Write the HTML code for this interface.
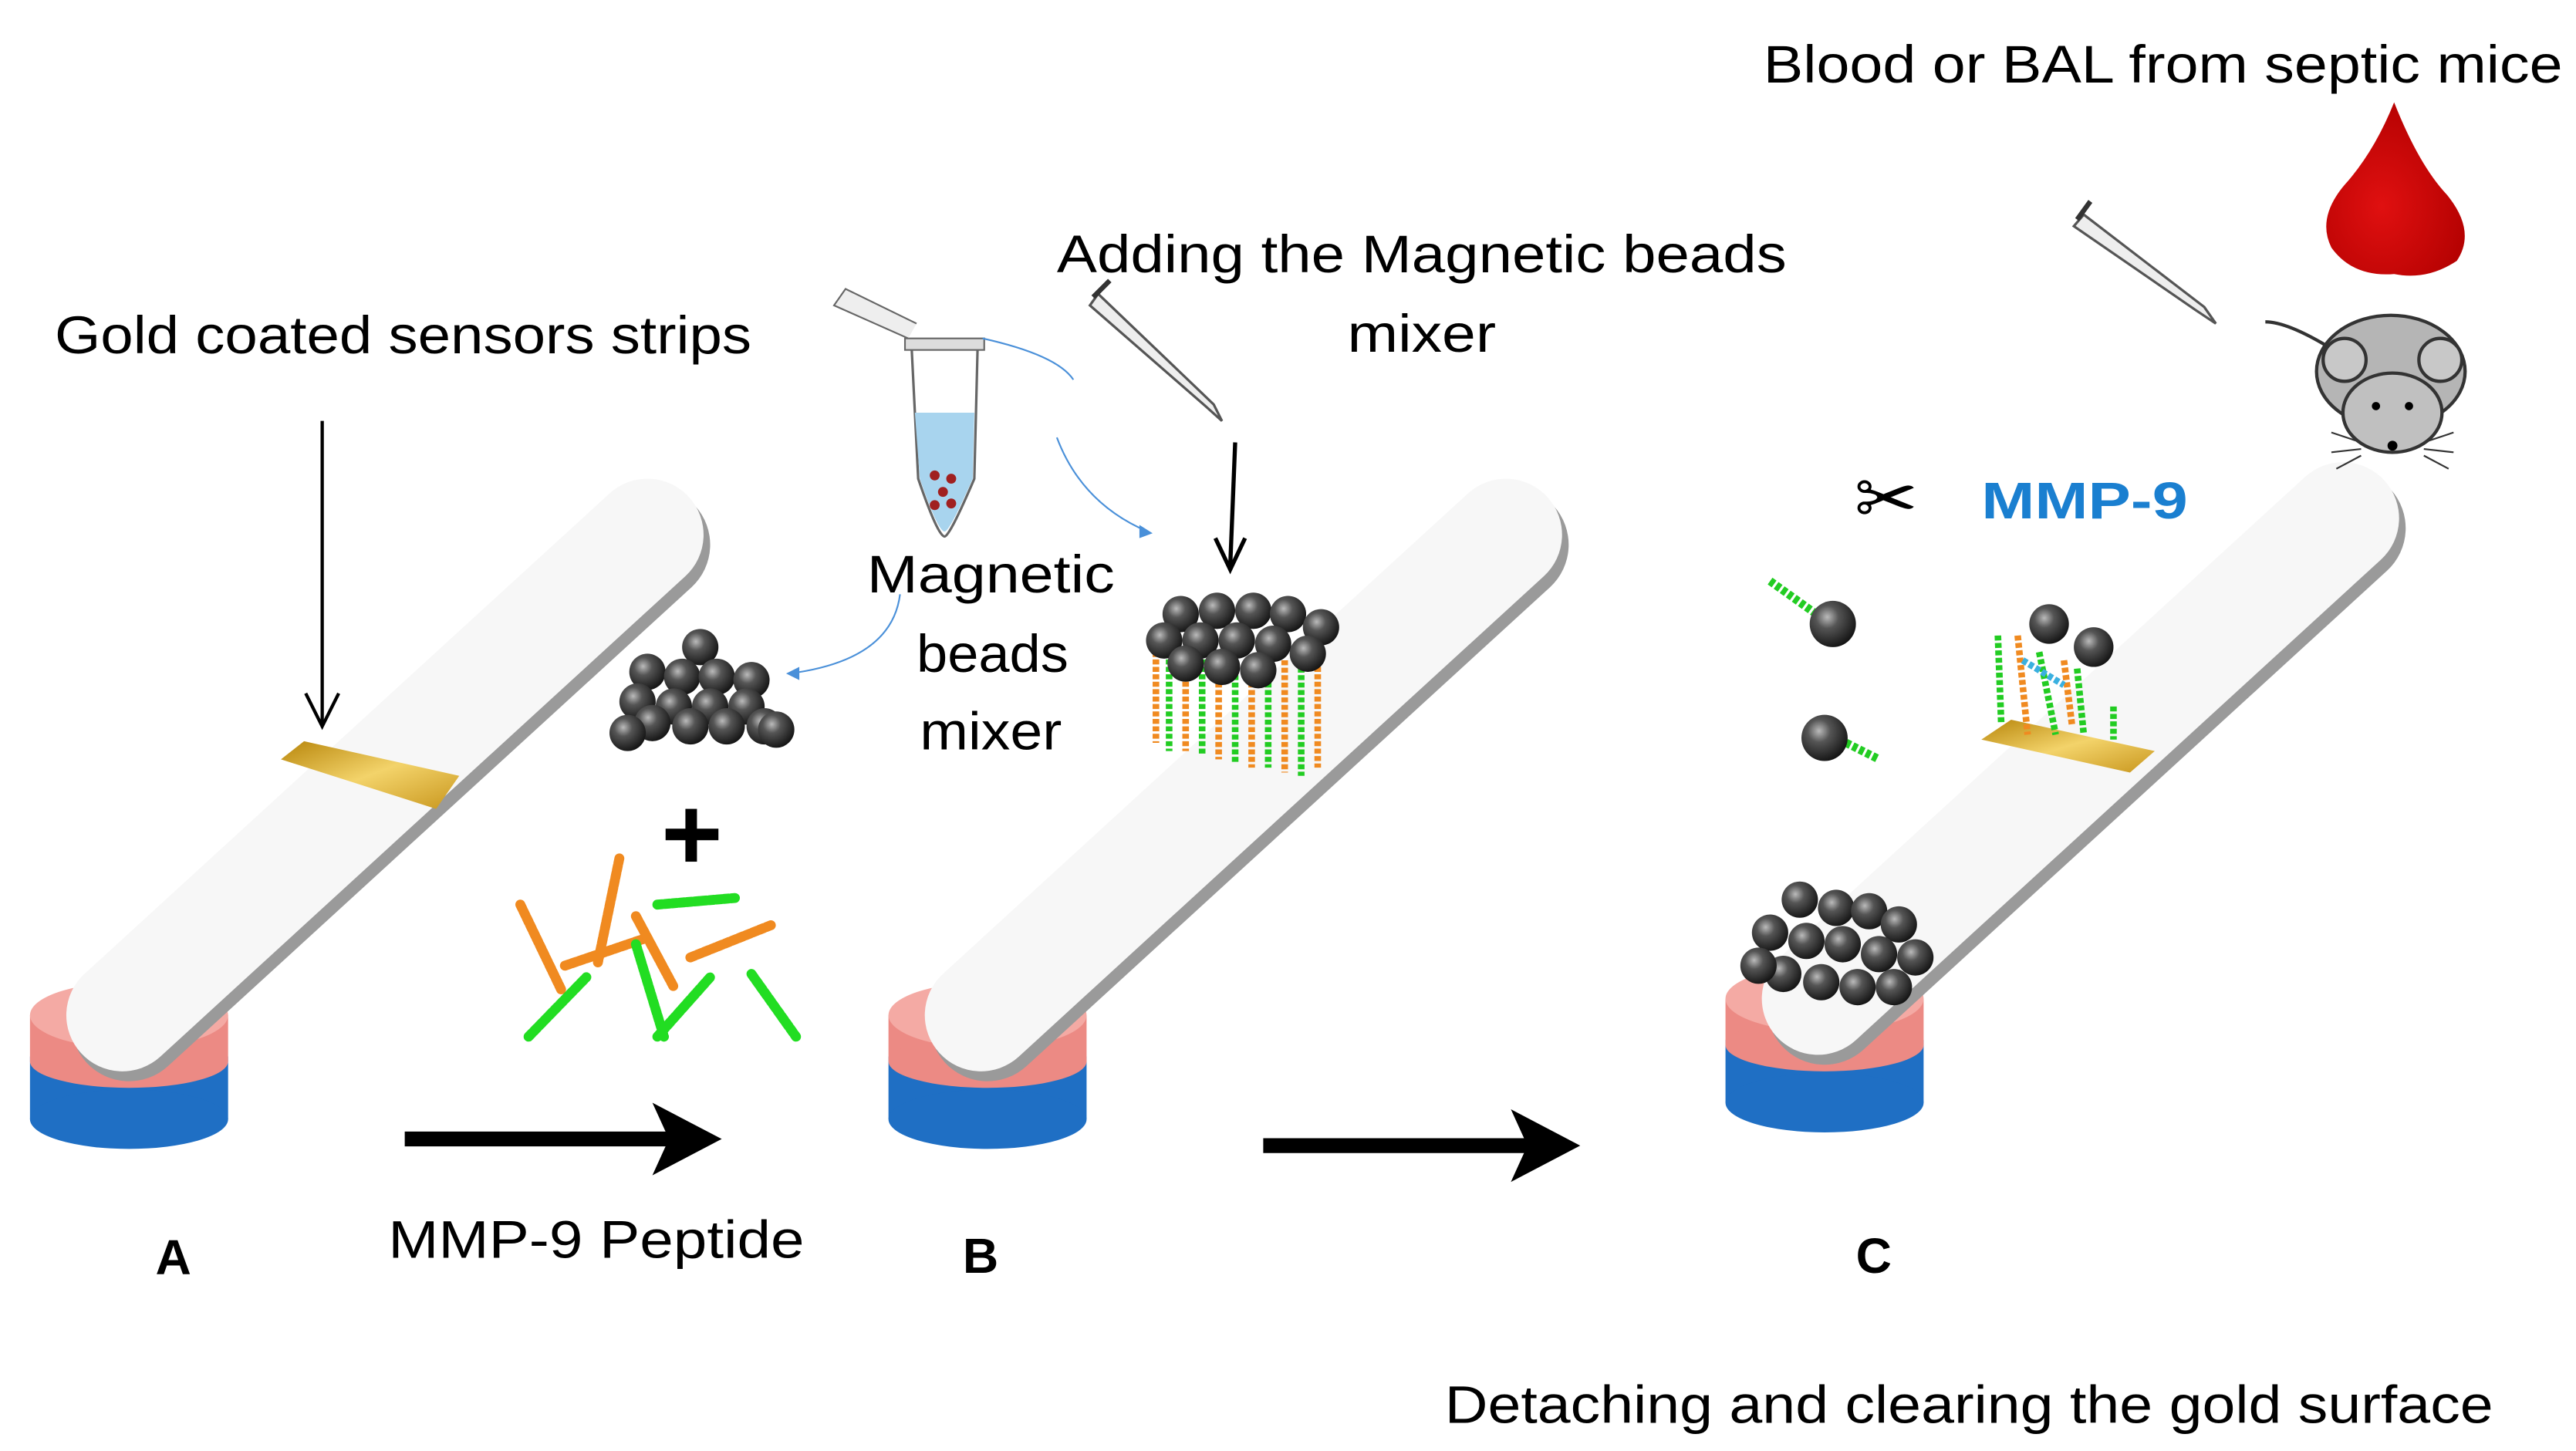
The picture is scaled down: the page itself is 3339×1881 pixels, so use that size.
<!DOCTYPE html>
<html><head><meta charset="utf-8">
<style>
html,body{margin:0;padding:0;background:#fff;}
svg{display:block;}
text{font-family:"Liberation Sans",sans-serif;}
</style></head>
<body>
<svg width="3339" height="1881" viewBox="0 0 1560 879" xmlns="http://www.w3.org/2000/svg">
<defs>
<radialGradient id="bead" cx="0.38" cy="0.35" r="0.7">
<stop offset="0" stop-color="#bbb"/><stop offset="0.35" stop-color="#555"/><stop offset="1" stop-color="#111"/>
</radialGradient>
<linearGradient id="gold" x1="0" y1="0" x2="1" y2="1">
<stop offset="0" stop-color="#b8860b"/><stop offset="0.5" stop-color="#f3d36a"/><stop offset="1" stop-color="#c9971e"/>
</linearGradient>
<radialGradient id="drop" cx="0.4" cy="0.6" r="0.7">
<stop offset="0" stop-color="#e01010"/><stop offset="1" stop-color="#b00000"/>
</radialGradient>
<g id="strip">
  <rect x="18" y="640" width="120" height="38" fill="#1f6fc4"/>
  <ellipse cx="78" cy="678" rx="60" ry="18" fill="#1f6fc4"/>
  <rect x="18" y="615" width="120" height="28" fill="#ec8a84"/>
  <ellipse cx="78" cy="643" rx="60" ry="16" fill="#ec8a84"/>
  <ellipse cx="78" cy="615" rx="60" ry="20" fill="#f4aaa4"/>
  <line x1="78" y1="620" x2="395" y2="330" stroke="#9a9a9a" stroke-width="70" stroke-linecap="round"/>
  <line x1="74" y1="615" x2="392" y2="324" stroke="#f7f7f7" stroke-width="68" stroke-linecap="round"/>
</g>
</defs>

<use href="#strip"/>
<use href="#strip" transform="translate(520,0)"/>
<use href="#strip" transform="translate(1027,-10)"/>

<polygon points="170,460 184,449 278,470 264,490" fill="url(#gold)"/>

<text x="1068" y="50" font-size="32" textLength="484" lengthAdjust="spacingAndGlyphs">Blood or BAL from septic mice</text>
<text x="640" y="165" font-size="32" textLength="442" lengthAdjust="spacingAndGlyphs">Adding the Magnetic beads</text>
<text x="816" y="213" font-size="32" textLength="90" lengthAdjust="spacingAndGlyphs">mixer</text>
<text x="33" y="214" font-size="32" textLength="422" lengthAdjust="spacingAndGlyphs">Gold coated sensors strips</text>
<text x="525" y="359" font-size="32" textLength="150" lengthAdjust="spacingAndGlyphs">Magnetic</text>
<text x="555" y="407" font-size="32" textLength="92" lengthAdjust="spacingAndGlyphs">beads</text>
<text x="557" y="454" font-size="32" textLength="86" lengthAdjust="spacingAndGlyphs">mixer</text>
<text x="235" y="762" font-size="32" textLength="252" lengthAdjust="spacingAndGlyphs">MMP-9 Peptide</text>
<text x="94" y="772" font-size="30" font-weight="bold">A</text>
<text x="583" y="771" font-size="30" font-weight="bold">B</text>
<text x="1124" y="771" font-size="30" font-weight="bold">C</text>
<text x="875" y="862" font-size="32" textLength="635" lengthAdjust="spacingAndGlyphs">Detaching and clearing the gold surface</text>
<text x="1200" y="314" font-size="31" font-weight="bold" fill="#1a7fd0" textLength="125" lengthAdjust="spacingAndGlyphs">MMP-9</text>

<line x1="195" y1="255" x2="195" y2="438" stroke="#000" stroke-width="2"/>
<path d="M185,420 L195,440 L205,420" fill="none" stroke="#000" stroke-width="2"/>
<line x1="748" y1="268" x2="745" y2="343" stroke="#000" stroke-width="2.5"/>
<path d="M736,326 L745,345 L754,326" fill="none" stroke="#000" stroke-width="2.5"/>

<line x1="245" y1="690" x2="410" y2="690" stroke="#000" stroke-width="9"/>
<polygon points="395,668 437,690 395,712 405,690" fill="#000"/>
<line x1="765" y1="694" x2="930" y2="694" stroke="#000" stroke-width="9"/>
<polygon points="915,672 957,694 915,716 925,694" fill="#000"/>

<rect x="403" y="502" width="32" height="7" fill="#000"/>
<rect x="415" y="490" width="7" height="32" fill="#000"/>

<g fill="url(#bead)">
<circle cx="424" cy="392" r="11"/>
<circle cx="392" cy="407" r="11"/><circle cx="413" cy="410" r="11"/><circle cx="434" cy="410" r="11"/><circle cx="455" cy="412" r="11"/>
<circle cx="386" cy="425" r="11"/><circle cx="408" cy="428" r="11"/><circle cx="430" cy="428" r="11"/><circle cx="452" cy="428" r="11"/>
<circle cx="395" cy="438" r="11"/><circle cx="418" cy="440" r="11"/><circle cx="440" cy="440" r="11"/><circle cx="463" cy="440" r="11"/>
<circle cx="380" cy="444" r="11"/><circle cx="470" cy="442" r="11"/>
</g>

<g stroke-width="6" stroke-linecap="round" stroke-dasharray="3 1.5" fill="none">
<line x1="315" y1="548" x2="340" y2="600" stroke="#f08a20"/>
<line x1="375" y1="520" x2="362" y2="583" stroke="#f08a20"/>
<line x1="342" y1="585" x2="392" y2="568" stroke="#f08a20"/>
<line x1="385" y1="555" x2="408" y2="598" stroke="#f08a20"/>
<line x1="418" y1="580" x2="468" y2="560" stroke="#f08a20"/>
<line x1="398" y1="548" x2="445" y2="544" stroke="#22dd22"/>
<line x1="320" y1="628" x2="355" y2="592" stroke="#22dd22"/>
<line x1="385" y1="572" x2="402" y2="628" stroke="#22dd22"/>
<line x1="398" y1="628" x2="430" y2="592" stroke="#22dd22"/>
<line x1="455" y1="590" x2="482" y2="628" stroke="#22dd22"/>
</g>

<g>
<path d="M552,210 L592,210 L590,290 Q575,325 572,325 Q568,325 556,290 Z" fill="#fff" stroke="#666" stroke-width="1.5"/>
<path d="M554,250 L590,250 L589,290 Q575,322 572,322 Q568,322 557,290 Z" fill="#a8d4ee"/>
<circle cx="566" cy="288" r="3" fill="#a02020"/><circle cx="576" cy="290" r="3" fill="#a02020"/>
<circle cx="571" cy="298" r="3" fill="#a02020"/><circle cx="566" cy="306" r="3" fill="#a02020"/><circle cx="576" cy="305" r="3" fill="#a02020"/>
<rect x="548" y="205" width="48" height="7" fill="#ddd" stroke="#666"/>
<path d="M550,205 L505,185 L512,175 L555,196" fill="#eee" stroke="#666"/>
</g>
<path d="M595,205 Q640,215 650,230" stroke="#4a90d9" fill="none" stroke-width="1"/>
<path d="M640,265 Q655,305 695,322" stroke="#4a90d9" fill="none" stroke-width="1"/>
<polygon points="690,318 698,323 690,326" fill="#4a90d9"/>
<path d="M545,360 Q540,400 478,408" stroke="#4a90d9" fill="none" stroke-width="1"/>
<polygon points="484,404 476,408 484,412" fill="#4a90d9"/>

<g stroke="#555" stroke-width="1.5" fill="#eee">
<path d="M665,178 L735,245 L740,255 L730,246 L660,185 Z"/>
<path d="M1262,130 L1335,186 L1342,196 L1330,188 L1256,137 Z"/>
</g>
<line x1="662" y1="180" x2="672" y2="170" stroke="#333" stroke-width="3"/>
<line x1="1258" y1="133" x2="1266" y2="122" stroke="#333" stroke-width="3"/>

<g stroke-width="4" stroke-dasharray="3 1.5">
<line x1="700" y1="395" x2="700" y2="450" stroke="#f08a20"/><line x1="708" y1="395" x2="708" y2="455" stroke="#22cc22"/>
<line x1="718" y1="395" x2="718" y2="455" stroke="#f08a20"/><line x1="728" y1="395" x2="728" y2="458" stroke="#22cc22"/>
<line x1="738" y1="400" x2="738" y2="460" stroke="#f08a20"/><line x1="748" y1="400" x2="748" y2="462" stroke="#22cc22"/>
<line x1="758" y1="400" x2="758" y2="465" stroke="#f08a20"/><line x1="768" y1="400" x2="768" y2="465" stroke="#22cc22"/>
<line x1="778" y1="400" x2="778" y2="468" stroke="#f08a20"/><line x1="788" y1="400" x2="788" y2="470" stroke="#22cc22"/>
<line x1="798" y1="395" x2="798" y2="465" stroke="#f08a20"/>
</g>
<g fill="url(#bead)">
<circle cx="715" cy="372" r="11"/><circle cx="737" cy="370" r="11"/><circle cx="759" cy="370" r="11"/><circle cx="780" cy="372" r="11"/><circle cx="800" cy="380" r="11"/>
<circle cx="705" cy="388" r="11"/><circle cx="727" cy="388" r="11"/><circle cx="749" cy="388" r="11"/><circle cx="771" cy="390" r="11"/><circle cx="792" cy="396" r="11"/>
<circle cx="718" cy="402" r="11"/><circle cx="740" cy="404" r="11"/><circle cx="762" cy="406" r="11"/>
</g>

<text x="1123" y="318" font-size="46" fill="#000">✂</text>
<g stroke="#22cc22" stroke-width="5" stroke-dasharray="3 1.5">
<line x1="1072" y1="352" x2="1100" y2="372"/>
<line x1="1118" y1="450" x2="1138" y2="460"/>
</g>
<circle cx="1110" cy="378" r="14" fill="url(#bead)"/>
<circle cx="1105" cy="447" r="14" fill="url(#bead)"/>
<polygon points="1200,448 1218,436 1305,455 1290,468" fill="url(#gold)"/>
<g stroke-width="4" stroke-dasharray="3 1.5">
<line x1="1210" y1="385" x2="1212" y2="438" stroke="#22cc22"/>
<line x1="1222" y1="385" x2="1228" y2="445" stroke="#f08a20"/>
<line x1="1235" y1="395" x2="1245" y2="445" stroke="#22cc22"/>
<line x1="1250" y1="400" x2="1255" y2="440" stroke="#f08a20"/>
<line x1="1258" y1="405" x2="1262" y2="445" stroke="#22cc22"/>
<line x1="1280" y1="428" x2="1280" y2="448" stroke="#22cc22"/>
<line x1="1225" y1="400" x2="1250" y2="415" stroke="#3ab0e0"/>
</g>
<circle cx="1241" cy="378" r="12" fill="url(#bead)"/>
<circle cx="1268" cy="392" r="12" fill="url(#bead)"/>
<g fill="url(#bead)">
<circle cx="1090" cy="545" r="11"/><circle cx="1112" cy="550" r="11"/><circle cx="1132" cy="552" r="11"/><circle cx="1150" cy="560" r="11"/>
<circle cx="1072" cy="565" r="11"/><circle cx="1094" cy="570" r="11"/><circle cx="1116" cy="572" r="11"/><circle cx="1138" cy="578" r="11"/><circle cx="1160" cy="580" r="11"/>
<circle cx="1080" cy="590" r="11"/><circle cx="1103" cy="595" r="11"/><circle cx="1125" cy="598" r="11"/><circle cx="1147" cy="598" r="11"/>
<circle cx="1065" cy="585" r="11"/>
</g>

<path d="M1450,62 Q1465,100 1482,118 Q1500,140 1488,158 Q1470,170 1450,166 Q1425,168 1412,150 Q1403,132 1420,112 Q1438,92 1450,62 Z" fill="url(#drop)"/>

<g>
<path d="M1410,210 Q1385,195 1372,195" stroke="#333" stroke-width="2" fill="none"/>
<ellipse cx="1448" cy="225" rx="45" ry="34" fill="#b5b5b5" stroke="#333" stroke-width="2"/>
<circle cx="1420" cy="218" r="13" fill="#c8c8c8" stroke="#333" stroke-width="2"/>
<circle cx="1478" cy="218" r="13" fill="#c8c8c8" stroke="#333" stroke-width="2"/>
<ellipse cx="1449" cy="250" rx="30" ry="24" fill="#c0c0c0" stroke="#333" stroke-width="2"/>
<circle cx="1439" cy="246" r="2.5" fill="#000"/><circle cx="1459" cy="246" r="2.5" fill="#000"/>
<circle cx="1449" cy="270" r="3" fill="#000"/>
<path d="M1430,268 L1412,262 M1430,272 L1412,274 M1430,276 L1415,284 M1468,268 L1486,262 M1468,272 L1486,274 M1468,276 L1483,284" stroke="#333" stroke-width="1"/>
</g>
</svg>
</body></html>
